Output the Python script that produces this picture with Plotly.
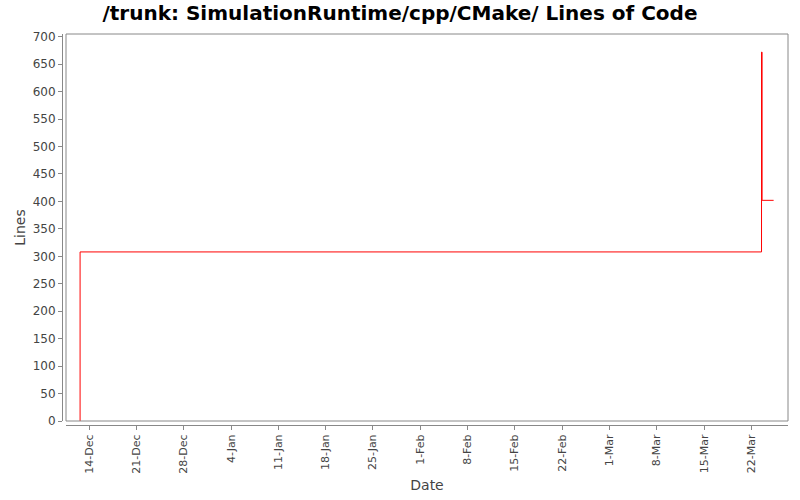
import plotly.graph_objects as go

# Data: step series of lines of code
dates = ["2010-12-12 16:00", "2010-12-12 16:00", "2011-03-23 12:00",
         "2011-03-23 14:00", "2011-03-25 07:00"]
lines = [0, 308, 672, 402, 402]

y_ticks = list(range(0, 701, 50))

fig = go.Figure()
fig.add_trace(go.Scatter(
    x=dates, y=lines, mode="lines", line=dict(color="#ff0000", width=1, shape="hv"),
    hoverinfo="skip", showlegend=False))

font_family = "DejaVu Sans"
plot_w = 800 - 62 - 12
plot_h = 500 - 34 - 75
fig.update_layout(
    width=800, height=500,
    margin=dict(l=62, r=12, t=34, b=75, autoexpand=False),
    paper_bgcolor="white", plot_bgcolor="white",
    title=dict(text="<b>/trunk: SimulationRuntime/cpp/CMake/ Lines of Code</b>",
               x=0.5, xanchor="center", y=0.974, yanchor="middle", automargin=False,
               font=dict(family=font_family, size=20, color="black")),
    xaxis=dict(
        type="date", range=["2010-12-10 14:00", "2011-03-27 10:00"],
        domain=[4 / plot_w, 1],
        tick0="2010-12-14", dtick=7 * 24 * 3600 * 1000, tickformat="%-d-%b",
        tickangle=-90, ticks="outside", ticklen=4, tickcolor="#888", automargin=False,
        showline=True, linecolor="#888", linewidth=1, showgrid=False, zeroline=False,
        anchor="free", position=0,
        tickfont=dict(family=font_family, size=11, color="#444"),
        title=dict(text="Date", font=dict(family=font_family, size=14, color="#444"), standoff=7),
    ),
    yaxis=dict(
        domain=[4 / plot_h, 1], range=[0, 705], automargin=False,
        anchor="free", position=0,
        tickvals=y_ticks, ticks="outside", ticklen=4, tickcolor="#888",
        showline=True, linecolor="#888", linewidth=1, showgrid=False, zeroline=False,
        tickfont=dict(family=font_family, size=12, color="#444"),
        title=dict(text="Lines", font=dict(family=font_family, size=14, color="#444"), standoff=2),
    ),
)
fig.add_shape(type="rect", xref="x domain", yref="y domain", x0=0, x1=1, y0=0, y1=1,
              line=dict(color="#888", width=1), layer="above")

fig.write_html("out.html", config={"displayModeBar": False},
               post_script="document.body.style.margin='0';document.body.style.padding='0';")
